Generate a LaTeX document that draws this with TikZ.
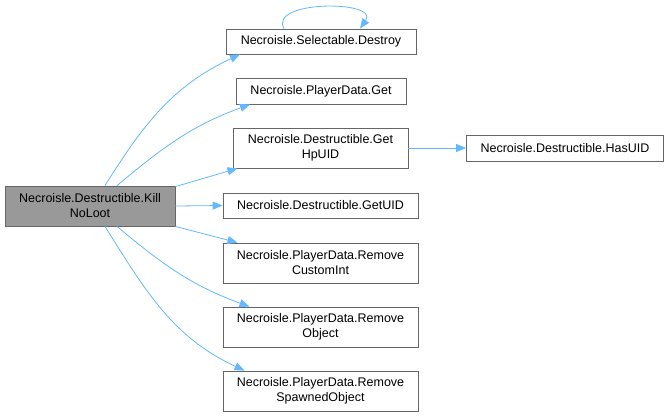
\documentclass[tikz,border=0pt]{standalone}
\usepackage{fontspec}
\setmainfont{Liberation Sans}
\usetikzlibrary{arrows.meta}

\definecolor{linkblue}{HTML}{63B8FF}
\definecolor{boxgray}{HTML}{666666}
\definecolor{killgray}{HTML}{999999}

\begin{document}
\begin{tikzpicture}[x=1bp, y=1bp, font=\fontsize{12.5bp}{15bp}\selectfont,
        fn/.style = {draw=boxgray, fill=white, line width=0.8bp, align=center, inner sep=0pt, minimum height=25bp},
        call/.style = {draw=linkblue, line width=0.8bp, -{Triangle[length=10bp,width=8bp]}}]
            \useasboundingbox (0,0) rectangle (669,-417);
            \node[fn, fill=killgray, minimum width=170bp, minimum height=40bp] (n_kill) at (90,-206) {Necroisle.Destructible.Kill\\NoLoot};
            \node[fn, minimum width=190bp] (n_destroy) at (321,-41.5) {Necroisle.Selectable.Destroy};
            \node[fn, minimum width=170bp, minimum height=26bp] (n_get) at (321,-91) {Necroisle.PlayerData.Get};
            \node[fn, minimum width=175bp, minimum height=40bp] (n_hpuid) at (320.5,-148) {Necroisle.Destructible.Get\\HpUID};
            \node[fn, minimum width=195bp] (n_uid) at (320.5,-205.5) {Necroisle.Destructible.GetUID};
            \node[fn, minimum width=195bp, minimum height=40bp] (n_int) at (320.5,-263) {Necroisle.PlayerData.Remove\\CustomInt};
            \node[fn, minimum width=195bp, minimum height=40bp] (n_obj) at (320.5,-327) {Necroisle.PlayerData.Remove\\Object};
            \node[fn, minimum width=195bp, minimum height=40bp] (n_spawn) at (320.5,-391) {Necroisle.PlayerData.Remove\\SpawnedObject};
            \node[fn, minimum width=197bp, minimum height=26bp] (n_has) at (565,-148) {Necroisle.Destructible.HasUID};
            
            \draw[call] ([xshift=15bp]n_kill.north) to [out=58,in=205] ([xshift=-81bp]n_destroy.south);
            \draw[call] ([xshift=27bp]n_kill.north) to [out=40,in=200] ([xshift=-71bp]n_get.south);
            \draw[call] ([yshift=-1bp]n_kill.north east) -- ([xshift=-83bp]n_hpuid.south);
            \draw[call] (n_kill.east) -- (n_uid.west);
            \draw[call] (n_kill.south east) -- ([xshift=-83bp]n_int.north);
            \draw[call] ([xshift=27bp]n_kill.south) to [out=-40,in=160] ([xshift=-71bp]n_obj.north);
            \draw[call] ([xshift=15bp]n_kill.south) to [out=-58,in=155] ([xshift=-76bp]n_spawn.north);
            \draw[call] ([xshift=-37bp]n_destroy.north) .. controls (268,0) and (380,0) .. ([xshift=39bp]n_destroy.north);
            \draw[call] (n_hpuid.east) -- (n_has.west);
        \end{tikzpicture}
\end{document}
